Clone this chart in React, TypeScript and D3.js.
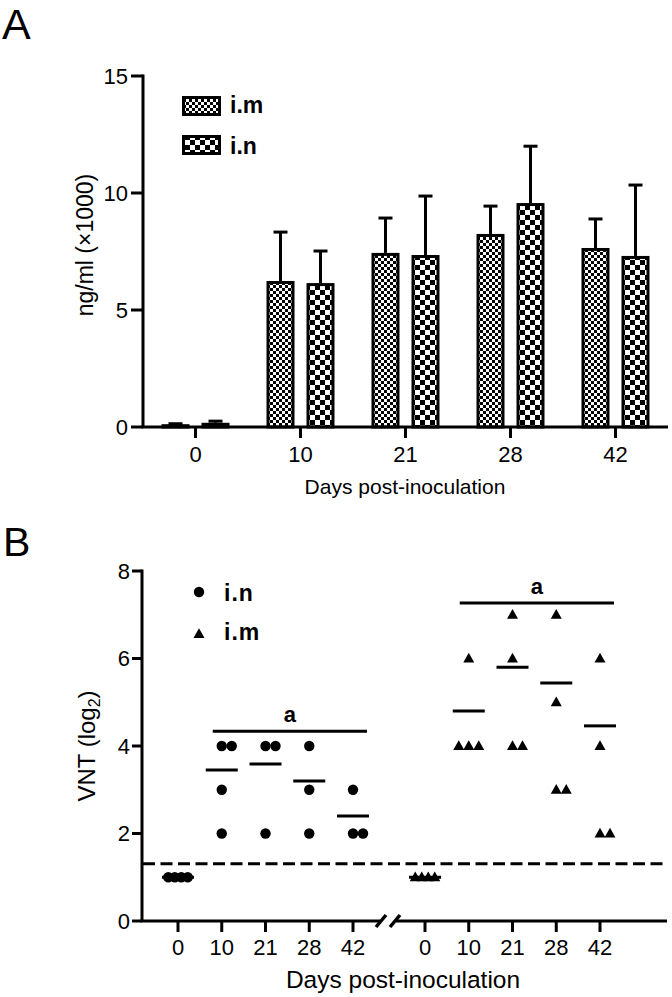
import React from 'react';
import * as d3 from 'd3';

// ---------- Panel A data ----------
const daysA = ['0', '10', '21', '28', '42'];
const imMean = [0.12, 6.24, 7.44, 8.25, 7.65];
const imUpper = [0.14, 8.33, 8.93, 9.44, 8.89];
const inMean = [0.18, 6.15, 7.35, 9.57, 7.31];
const inUpper = [0.25, 7.52, 9.87, 12.0, 10.34];
const yTicksA = [0, 5, 10, 15];
const seriesA = ['i.m', 'i.n'];

// ---------- Panel B data ----------
const daysB = ['0', '10', '21', '28', '42'];
const inVNT = [[1, 1, 1, 1], [4, 4, 3, 2], [4, 4, 2], [4, 3, 2], [3, 2, 2]];
const imVNT = [[1, 1, 1, 1], [6, 4, 4, 4], [7, 6, 4, 4], [7, 5, 3, 3], [6, 4, 2, 2]];
const inVNTMean = [1, 3.45, 3.59, 3.2, 2.4];
const imVNTMean = [1, 4.8, 5.8, 5.44, 4.46];
const detectionLimit = 1.31;
const bracketLevels = [4.34, 7.27];
const yTicksB = [0, 2, 4, 6, 8];

const FONT = '"Liberation Sans", Arial, Helvetica, sans-serif';

function jitter(vals: number[]) {
  const counts = d3.rollup(vals, (v) => v.length, (d) => d);
  const seen = new Map<number, number>();
  return vals.map((v) => {
    const n = counts.get(v) || 1;
    const i = seen.get(v) ?? 0;
    seen.set(v, i + 1);
    let off = 0;
    if (n === 2) off = i * 10;
    else if (n >= 3) {
      const s = n >= 4 ? 6.5 : 10;
      off = (i - (n - 1) / 2) * s;
    }
    return { v, off };
  });
}

const triPath = (cx: number, cy: number) =>
  `M${cx},${cy - 5.8}L${cx + 5.5},${cy + 4}L${cx - 5.5},${cy + 4}Z`;

export default function App() {
  // ---- Panel A scales ----
  const yA = d3.scaleLinear().domain([0, 15]).range([427, 76]);
  const x0 = d3
    .scaleBand<string>()
    .domain(daysA)
    .range([143, 668])
    .paddingInner(37 / 105)
    .paddingOuter(37 / 210);
  const x1 = d3.scaleBand<string>().domain(seriesA).range([0, x0.bandwidth()]).paddingInner(0.3);
  const barData = daysA.flatMap((d, i) => [
    { day: d, s: 'i.m', mean: imMean[i], up: imUpper[i], pat: 'patIm' },
    { day: d, s: 'i.n', mean: inMean[i], up: inUpper[i], pat: 'patIn' },
  ]);

  // ---- Panel B scales ----
  const yB = d3.scaleLinear().domain([0, 8]).range([921, 571]);
  const xL = d3.scalePoint<string>().domain(daysB).range([178, 353]);
  const xR = d3.scalePoint<string>().domain(daysB).range([425, 600]);

  const sw = 3;

  return (
    <svg
      width={672}
      height={997}
      style={{ position: 'absolute', left: 0, top: 0, background: '#fff' }}
      fontFamily={FONT}
    >
      <defs>
        <pattern id="patIm" patternUnits="userSpaceOnUse" width={6} height={6}>
          <rect width={6} height={6} fill="#fff" />
          <rect x={0} y={0} width={3} height={3} fill="#000" />
          <rect x={3} y={3} width={3} height={3} fill="#000" />
        </pattern>
        <pattern id="patIn" patternUnits="userSpaceOnUse" width={10} height={10}>
          <rect width={10} height={10} fill="#fff" />
          <rect x={0} y={0} width={5} height={5} fill="#000" />
          <rect x={5} y={5} width={5} height={5} fill="#000" />
        </pattern>
      </defs>
      <rect width={672} height={997} fill="#fff" />

      {/* ================= Panel A ================= */}
      <text x={2} y={39} fontSize={43}>A</text>

      {/* bars */}
      {barData.map((b, i) => {
        const bx = (x0(b.day) as number) + (x1(b.s) as number);
        const bw = x1.bandwidth();
        const top = yA(b.mean);
        const cx = bx + bw / 2;
        return (
          <g key={i}>
            <line x1={cx} x2={cx} y1={top} y2={yA(b.up)} stroke="#000" strokeWidth={sw} />
            <line x1={cx - 7} x2={cx + 7} y1={yA(b.up)} y2={yA(b.up)} stroke="#000" strokeWidth={sw} />
            <rect
              x={bx + sw / 2}
              y={Math.min(top + sw / 2, yA(0) - 1)}
              width={bw - sw}
              height={Math.max(yA(0) - top - sw / 2, 1)}
              fill={`url(#${b.pat})`}
              stroke="#000"
              strokeWidth={sw}
            />
          </g>
        );
      })}

      {/* axes A */}
      <line x1={143} x2={143} y1={yA(15) - 1.5} y2={yA(0)} stroke="#000" strokeWidth={sw} />
      <line x1={141.5} x2={668} y1={yA(0)} y2={yA(0)} stroke="#000" strokeWidth={sw} />
      {yTicksA.map((t) => (
        <g key={t}>
          <line x1={131} x2={143} y1={yA(t)} y2={yA(t)} stroke="#000" strokeWidth={sw} />
          <text x={128} y={yA(t)} fontSize={22} textAnchor="end" dominantBaseline="central">
            {t}
          </text>
        </g>
      ))}
      {daysA.map((d) => {
        const cx = (x0(d) as number) + x0.bandwidth() / 2;
        return (
          <g key={d}>
            <line x1={cx} x2={cx} y1={yA(0)} y2={yA(0) + 11} stroke="#000" strokeWidth={sw} />
            <text x={cx} y={462} fontSize={22} textAnchor="middle">{d}</text>
          </g>
        );
      })}
      <text x={405} y={494} fontSize={21} textAnchor="middle">Days post-inoculation</text>
      <text transform="translate(93,245) rotate(-90)" fontSize={23} textAnchor="middle">
        ng/ml (×1000)
      </text>

      {/* legend A */}
      {seriesA.map((s, i) => (
        <g key={s}>
          <rect
            x={183.5}
            y={97.5 + i * 39}
            width={36}
            height={17}
            fill={`url(#${i === 0 ? 'patIm' : 'patIn'})`}
            stroke="#000"
            strokeWidth={sw}
          />
          <text x={230} y={113 + i * 41} fontSize={23} fontWeight="bold">{s}</text>
        </g>
      ))}

      {/* ================= Panel B ================= */}
      <text x={3} y={556} fontSize={41}>B</text>

      {/* detection limit */}
      <line
        x1={143}
        x2={668}
        y1={yB(detectionLimit)}
        y2={yB(detectionLimit)}
        stroke="#000"
        strokeWidth={sw}
        strokeDasharray="12,5.5"
      />

      {/* i.n circles */}
      {inVNT.map((vals, di) =>
        jitter(vals).map((p, k) => (
          <circle key={`c${di}-${k}`} cx={(xL(daysB[di]) as number) + p.off} cy={yB(p.v)} r={5.2} fill="#000" />
        ))
      )}
      {inVNTMean.map((m, di) => {
        const cx = xL(daysB[di]) as number;
        return <line key={`mL${di}`} x1={cx - 16} x2={cx + 16} y1={yB(m)} y2={yB(m)} stroke="#000" strokeWidth={sw} />;
      })}

      {/* i.m triangles */}
      {imVNT.map((vals, di) =>
        jitter(vals).map((p, k) => (
          <path key={`t${di}-${k}`} d={triPath((xR(daysB[di]) as number) + p.off, yB(p.v))} fill="#000" />
        ))
      )}
      {imVNTMean.map((m, di) => {
        const cx = xR(daysB[di]) as number;
        return <line key={`mR${di}`} x1={cx - 16} x2={cx + 16} y1={yB(m)} y2={yB(m)} stroke="#000" strokeWidth={sw} />;
      })}

      {/* significance brackets */}
      {[xL, xR].map((xs, gi) => {
        const a = (xs('10') as number) - 9;
        const b = (xs('42') as number) + 14;
        const y = yB(bracketLevels[gi]);
        return (
          <g key={`br${gi}`}>
            <line x1={a} x2={b} y1={y} y2={y} stroke="#000" strokeWidth={sw} />
            <text x={(a + b) / 2} y={y - 9} fontSize={22} fontWeight="bold" textAnchor="middle">a</text>
          </g>
        );
      })}

      {/* axes B */}
      <line x1={142} x2={142} y1={yB(8) - 1.5} y2={yB(0)} stroke="#000" strokeWidth={sw} />
      <line x1={140.5} x2={380} y1={yB(0)} y2={yB(0)} stroke="#000" strokeWidth={sw} />
      <line x1={396} x2={667} y1={yB(0)} y2={yB(0)} stroke="#000" strokeWidth={sw} />
      <line x1={376} x2={386} y1={yB(0) + 6} y2={yB(0) - 6} stroke="#000" strokeWidth={3.5} />
      <line x1={390} x2={400} y1={yB(0) + 6} y2={yB(0) - 6} stroke="#000" strokeWidth={3.5} />
      {yTicksB.map((t) => (
        <g key={t}>
          <line x1={132} x2={142} y1={yB(t)} y2={yB(t)} stroke="#000" strokeWidth={sw} />
          <text x={130} y={yB(t)} fontSize={22} textAnchor="end" dominantBaseline="central">{t}</text>
        </g>
      ))}
      {[xL, xR].map((xs, gi) =>
        daysB.map((d) => {
          const cx = xs(d) as number;
          return (
            <g key={`xt${gi}-${d}`}>
              <line x1={cx} x2={cx} y1={yB(0)} y2={yB(0) + 11} stroke="#000" strokeWidth={sw} />
              <text x={cx} y={955} fontSize={22} textAnchor="middle">{d}</text>
            </g>
          );
        })
      )}
      <text x={403} y={988} fontSize={24.5} textAnchor="middle">Days post-inoculation</text>
      <text transform="translate(95,746) rotate(-90)" fontSize={24} textAnchor="middle">
        VNT (log
        <tspan fontSize={16} dy={5}>2</tspan>
        <tspan dy={-5}>)</tspan>
      </text>

      {/* legend B */}
      <circle cx={199} cy={592} r={5.2} fill="#000" />
      <text x={224} y={601} fontSize={23} fontWeight="bold" letterSpacing={1}>i.n</text>
      <path d={triPath(199, 634)} fill="#000" />
      <text x={224} y={640} fontSize={23} fontWeight="bold" letterSpacing={1}>i.m</text>
    </svg>
  );
}
